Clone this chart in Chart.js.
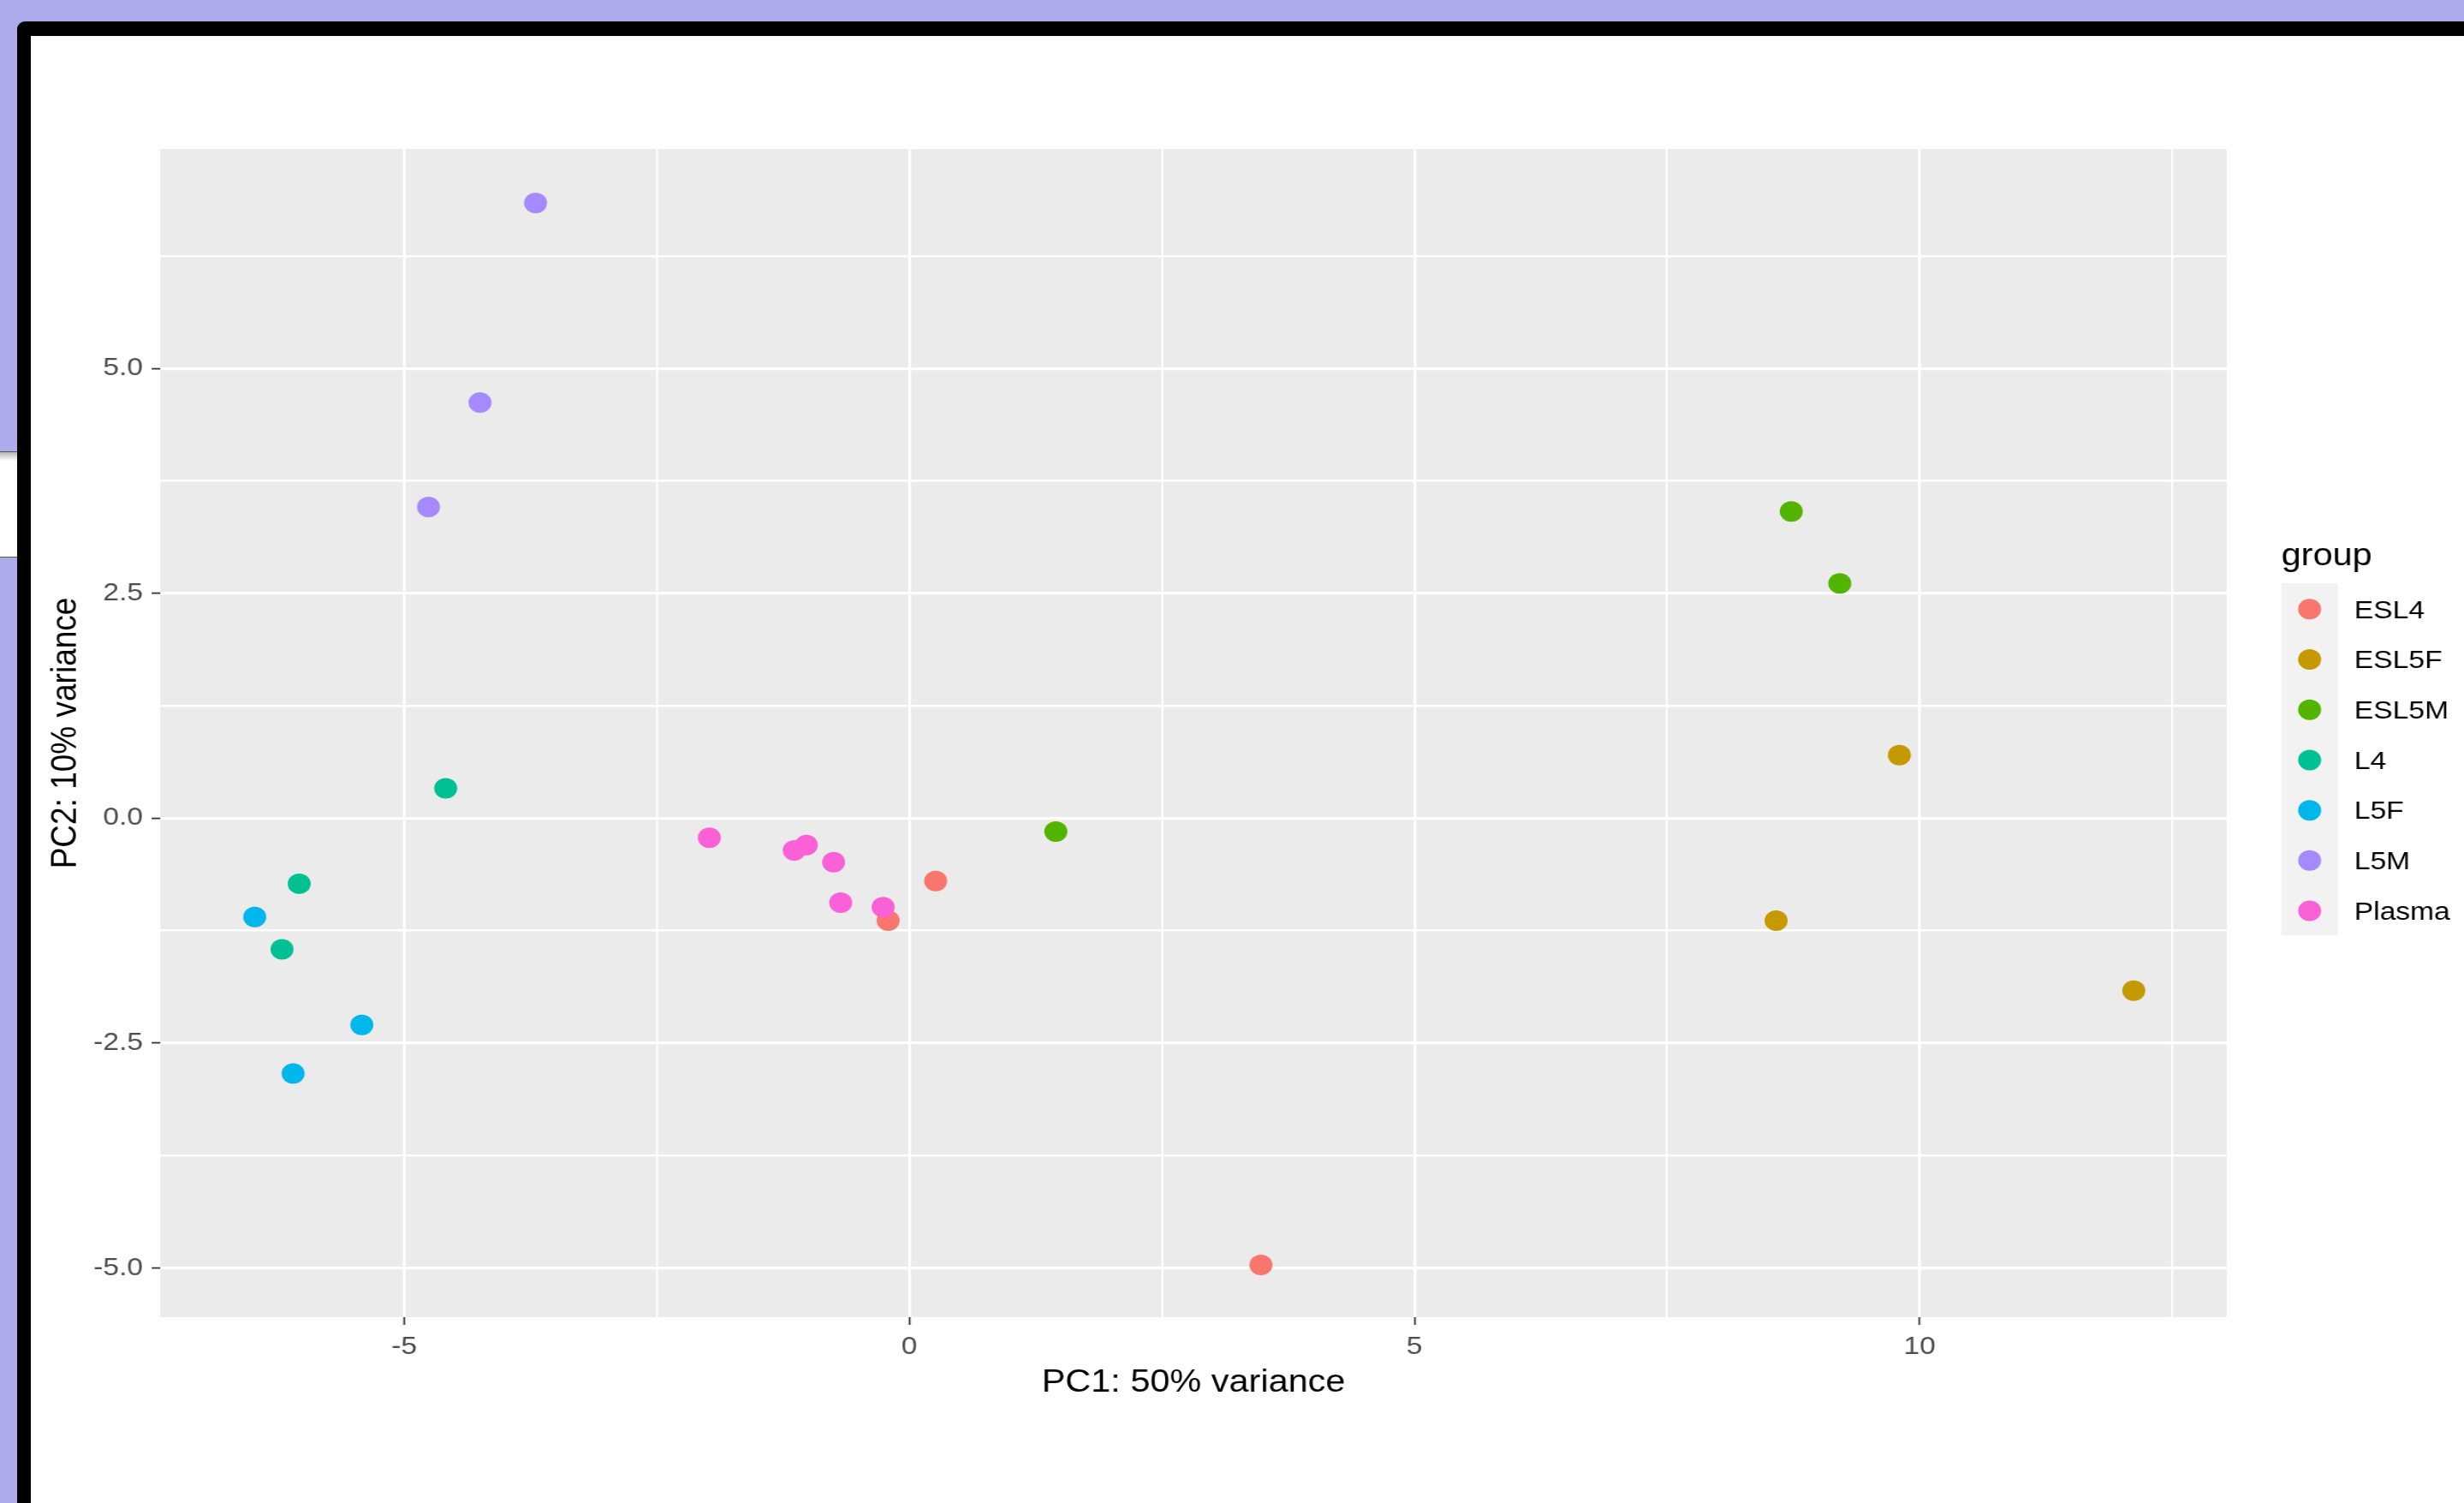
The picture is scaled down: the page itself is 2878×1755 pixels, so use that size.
<!DOCTYPE html>
<html>
<head>
<meta charset="utf-8">
<script src="https://cdn.jsdelivr.net/npm/chart.js@4.4.1/dist/chart.umd.min.js"></script>
<style>
  html, body { margin: 0; padding: 0; }
  body { width: 2878px; height: 1755px; background: #adabeb; position: relative; overflow: hidden; }
  #frame { position: absolute; left: 20px; top: 25px; width: 2900px; height: 1800px; background: #000; border-top-left-radius: 9px; }
  #sidebox { position: absolute; left: 0; top: 527px; width: 20px; height: 122px; border-top: 1px solid #555; border-bottom: 1px solid #555; background: linear-gradient(#b5b5b5, #fff 10px); }
  #white { position: absolute; left: 36px; top: 42px; width: 2900px; height: 1800px; background: #fff; }
  #wrap { position: absolute; left: 36px; top: 42px; width: 2538px; height: 1713px; transform: scaleX(1.12); transform-origin: 0 0; }
</style>
</head>
<body>
<div id="frame"></div>
<div id="sidebox"></div>
<div id="white"></div>
<div id="wrap"><canvas id="pca" width="2538" height="1713"></canvas></div>
<script>
// groups and colours (ggplot default hue palette)
const groups = ['ESL4', 'ESL5F', 'ESL5M', 'L4', 'L5F', 'L5M', 'Plasma'];
const groupColors = ['#F8766D', '#C49A00', '#53B400', '#00C094', '#00B6EB', '#A58AFF', '#FB61D7'];

// PC1 / PC2 coordinates
const esl4PC1 = [0.26, -0.21, 3.48];
const esl4PC2 = [-0.70, -1.14, -4.97];
const esl5fPC1 = [9.80, 8.58, 12.12];
const esl5fPC2 = [0.70, -1.14, -1.92];
const esl5mPC1 = [8.73, 9.21, 1.45];
const esl5mPC2 = [3.41, 2.61, -0.15];
const l4PC1 = [-4.59, -6.04, -6.21];
const l4PC2 = [0.33, -0.73, -1.46];
const l5fPC1 = [-6.48, -5.42, -6.10];
const l5fPC2 = [-1.10, -2.30, -2.84];
const l5mPC1 = [-3.70, -4.25, -4.76];
const l5mPC2 = [6.84, 4.62, 3.46];
const plasmaPC1 = [-1.98, -1.14, -1.02, -0.75, -0.68, -0.26];
const plasmaPC2 = [-0.22, -0.36, -0.30, -0.49, -0.94, -0.99];

const pc1ByGroup = [esl4PC1, esl5fPC1, esl5mPC1, l4PC1, l5fPC1, l5mPC1, plasmaPC1];
const pc2ByGroup = [esl4PC2, esl5fPC2, esl5mPC2, l4PC2, l5fPC2, l5mPC2, plasmaPC2];

// axis breaks
const xMajor = [-5, 0, 5, 10];
const xTickLabels = ['-5', '0', '5', '10'];
const xMinor = [-2.5, 2.5, 7.5, 12.5];
const yMajor = [-5, -2.5, 0, 2.5, 5];
const yTickLabels = ['-5.0', '-2.5', '0.0', '2.5', '5.0'];
const yMinor = [-3.75, -1.25, 1.25, 3.75, 6.25];

const xRange = [-7.415, 13.04];
const yRange = [-5.55, 7.44];

const FONT = "'Liberation Sans', Arial, sans-serif";

const datasets = groups.map((g, i) => ({
  label: g,
  data: pc1ByGroup[i].map((x, j) => ({ x: x, y: pc2ByGroup[i][j] })),
  backgroundColor: groupColors[i],
  borderColor: groupColors[i],
  borderWidth: 0,
  pointRadius: 12,
  pointHoverRadius: 12,
  order: groups.length - i  // later groups drawn on top, like ggplot
}));

// grey panel behind the plot area
const panelBg = {
  id: 'panelBg',
  beforeDraw(chart) {
    const { ctx, chartArea: a } = chart;
    ctx.save();
    ctx.fillStyle = '#EBEBEB';
    ctx.fillRect(a.left, a.top, a.right - a.left, a.bottom - a.top);
    ctx.restore();
  }
};

// ggplot style legend on the right
const ggLegend = {
  id: 'ggLegend',
  afterDraw(chart) {
    const ctx = chart.ctx;
    const left = 2347, keyW = 59, keyH = 58.7, top = 639;
    ctx.save();
    ctx.fillStyle = '#000';
    ctx.font = '37px ' + FONT;
    ctx.textBaseline = 'middle';
    ctx.textAlign = 'left';
    ctx.fillText('group', left, 608);
    ctx.fillStyle = '#F2F2F2';
    ctx.fillRect(left, top, keyW, keyH * chart.data.datasets.length);
    ctx.font = '30px ' + FONT;
    chart.data.datasets.forEach((ds, i) => {
      const cy = top + keyH * (i + 0.5);
      ctx.fillStyle = ds.backgroundColor;
      ctx.beginPath();
      ctx.arc(left + keyW / 2, cy + 1, 12, 0, Math.PI * 2);
      ctx.fill();
      ctx.fillStyle = '#000';
      ctx.fillText(ds.label, left + 76, cy + 3);
    });
    ctx.restore();
  }
};

function gridFor(major, majorW, minorW) {
  const isMajor = v => major.some(m => Math.abs(m - v) < 1e-9);
  return {
    color: '#FFFFFF',
    lineWidth: c => (c.tick && isMajor(c.tick.value)) ? majorW : minorW,
    tickColor: c => (c.tick && isMajor(c.tick.value)) ? '#333333' : 'rgba(0,0,0,0)',
    tickWidth: 1.8,
    tickLength: 9,
    drawTicks: true,
    z: 0
  };
}

new Chart(document.getElementById('pca'), {
  type: 'scatter',
  data: { datasets: datasets },
  options: {
    responsive: false,
    devicePixelRatio: 1,
    animation: false,
    layout: { padding: { left: 0, top: 132, right: 248, bottom: 107 } },
    plugins: {
      legend: { display: false },
      tooltip: { enabled: false }
    },
    scales: {
      x: {
        type: 'linear',
        min: xRange[0],
        max: xRange[1],
        afterBuildTicks: s => { s.ticks = xMajor.concat(xMinor).sort((a, b) => a - b).map(v => ({ value: v })); },
        afterFit: s => { s.height = 110; },
        border: { display: false },
        grid: gridFor(xMajor, 2.9, 2.1),
        ticks: {
          autoSkip: false,
          maxRotation: 0,
          padding: 8,
          color: '#4D4D4D',
          font: { family: FONT, size: 30 },
          callback: v => {
            const k = xMajor.indexOf(v);
            return k >= 0 ? xTickLabels[k] : '';
          }
        },
        title: {
          display: true,
          text: 'PC1: 50% variance',
          color: '#000',
          font: { family: FONT, size: 37 },
          padding: { top: 0, bottom: 11 }
        }
      },
      y: {
        type: 'linear',
        min: yRange[0],
        max: yRange[1],
        afterBuildTicks: s => { s.ticks = yMajor.concat(yMinor).sort((a, b) => a - b).map(v => ({ value: v })); },
        afterFit: s => { s.width = 135; },
        border: { display: false },
        grid: gridFor(yMajor, 3.2, 2.4),
        ticks: {
          autoSkip: false,
          padding: 9,
          color: '#4D4D4D',
          font: { family: FONT, size: 30 },
          callback: v => {
            const k = yMajor.indexOf(v);
            return k >= 0 ? yTickLabels[k] : '';
          }
        },
        title: {
          display: true,
          text: 'PC2: 10% variance',
          color: '#000',
          font: { family: FONT, size: 37 },
          padding: { top: 15, bottom: 0 }
        }
      }
    }
  },
  plugins: [panelBg, ggLegend]
});
</script>
</body>
</html>
